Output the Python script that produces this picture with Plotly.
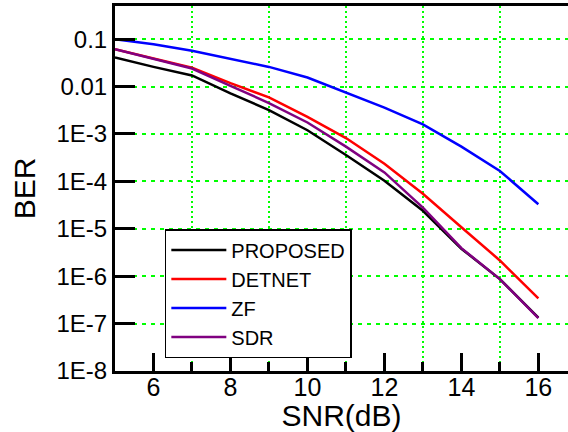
import plotly.graph_objects as go

snr = [5, 6, 7, 8, 9, 10, 11, 12, 13, 14, 15, 16]
proposed = [0.041, 0.026, 0.0172, 7.2e-3, 3.2e-3, 1.2e-3, 3.6e-4, 1.03e-4, 2.4e-5, 3.8e-6, 8.7e-7, 1.33e-7]
detnet = [0.0616, 0.039, 0.025, 0.0118, 5.9e-3, 2.3e-3, 8.2e-4, 2.35e-4, 5.5e-5, 1.08e-5, 2.15e-6, 3.4e-7]
zf = [0.1, 0.078, 0.057, 0.038, 0.026, 0.0155, 7.4e-3, 3.6e-3, 1.6e-3, 5.4e-4, 1.66e-4, 3.3e-5]
sdr = [0.0616, 0.038, 0.024, 0.0104, 4.5e-3, 1.75e-3, 5.4e-4, 1.55e-4, 2.8e-5, 3.9e-6, 8.7e-7, 1.3e-7]

series_names = ["PROPOSED", "DETNET", "ZF", "SDR"]
series_colors = ["#000000", "#ff0000", "#0000ff", "#800080"]
series_data = [proposed, detnet, zf, sdr]

x_ticks = [6, 8, 10, 12, 14, 16]
x_minor = [5, 7, 9, 11, 13, 15]
y_ticks = [1e-8, 1e-7, 1e-6, 1e-5, 1e-4, 1e-3, 1e-2, 1e-1]
y_ticktext = ["1E-8", "1E-7", "1E-6", "1E-5", "1E-4", "1E-3", "0.01", "0.1"]

FONT = "Liberation Sans, Arial, sans-serif"

fig = go.Figure()
for name, color, vals in zip(series_names, series_colors, series_data):
    fig.add_trace(go.Scatter(x=snr, y=vals, mode="lines", name=name,
                             line=dict(color=color, width=2.5)))

fig.update_layout(
    width=568, height=432,
    margin=dict(l=115, r=0, t=6, b=61, autoexpand=False),
    paper_bgcolor="white", plot_bgcolor="white",
    font=dict(family=FONT, color="black"),
    showlegend=True,
    legend=dict(x=0.11, y=0.389, xanchor="left", yanchor="top",
                bgcolor="white", bordercolor="black", borderwidth=1.5,
                font=dict(size=20, family=FONT, color="black"),
                tracegroupgap=0, itemwidth=55),
)

fig.update_xaxes(
    range=[5, 16.77], showline=True, linecolor="black", linewidth=3, mirror=True,
    automargin=False,
    tickvals=x_ticks, ticks="inside", ticklen=18, tickwidth=3, tickcolor="black",
    tickfont=dict(size=25, family=FONT, color="black"), ticklabelstandoff=-8,
    showgrid=False, zeroline=False,
    minor=dict(tickvals=x_minor, ticks="inside", ticklen=9, tickwidth=3, tickcolor="black",
               showgrid=True, gridcolor="#00ff00", gridwidth=1.5, griddash="2px,3px"),
    title=dict(text="SNR(dB)", font=dict(size=30, family=FONT, color="black"), standoff=0),
)

fig.update_yaxes(
    type="log", range=[-8, -0.30], showline=True, linecolor="black", linewidth=3,
    automargin=False,
    tickvals=y_ticks, ticktext=y_ticktext, ticks="inside", ticklen=20, tickwidth=3,
    tickcolor="black", tickfont=dict(size=24, family=FONT, color="black"),
    showgrid=True, gridcolor="#00ff00", gridwidth=1.5, griddash="4px,5px",
    zeroline=False,
    title=dict(text="BER", font=dict(size=30, family=FONT, color="black"), standoff=12),
)

fig.write_html(
    "out.html",
    config={"displayModeBar": False},
    post_script="document.body.style.margin='0';document.body.style.overflow='hidden';",
)
